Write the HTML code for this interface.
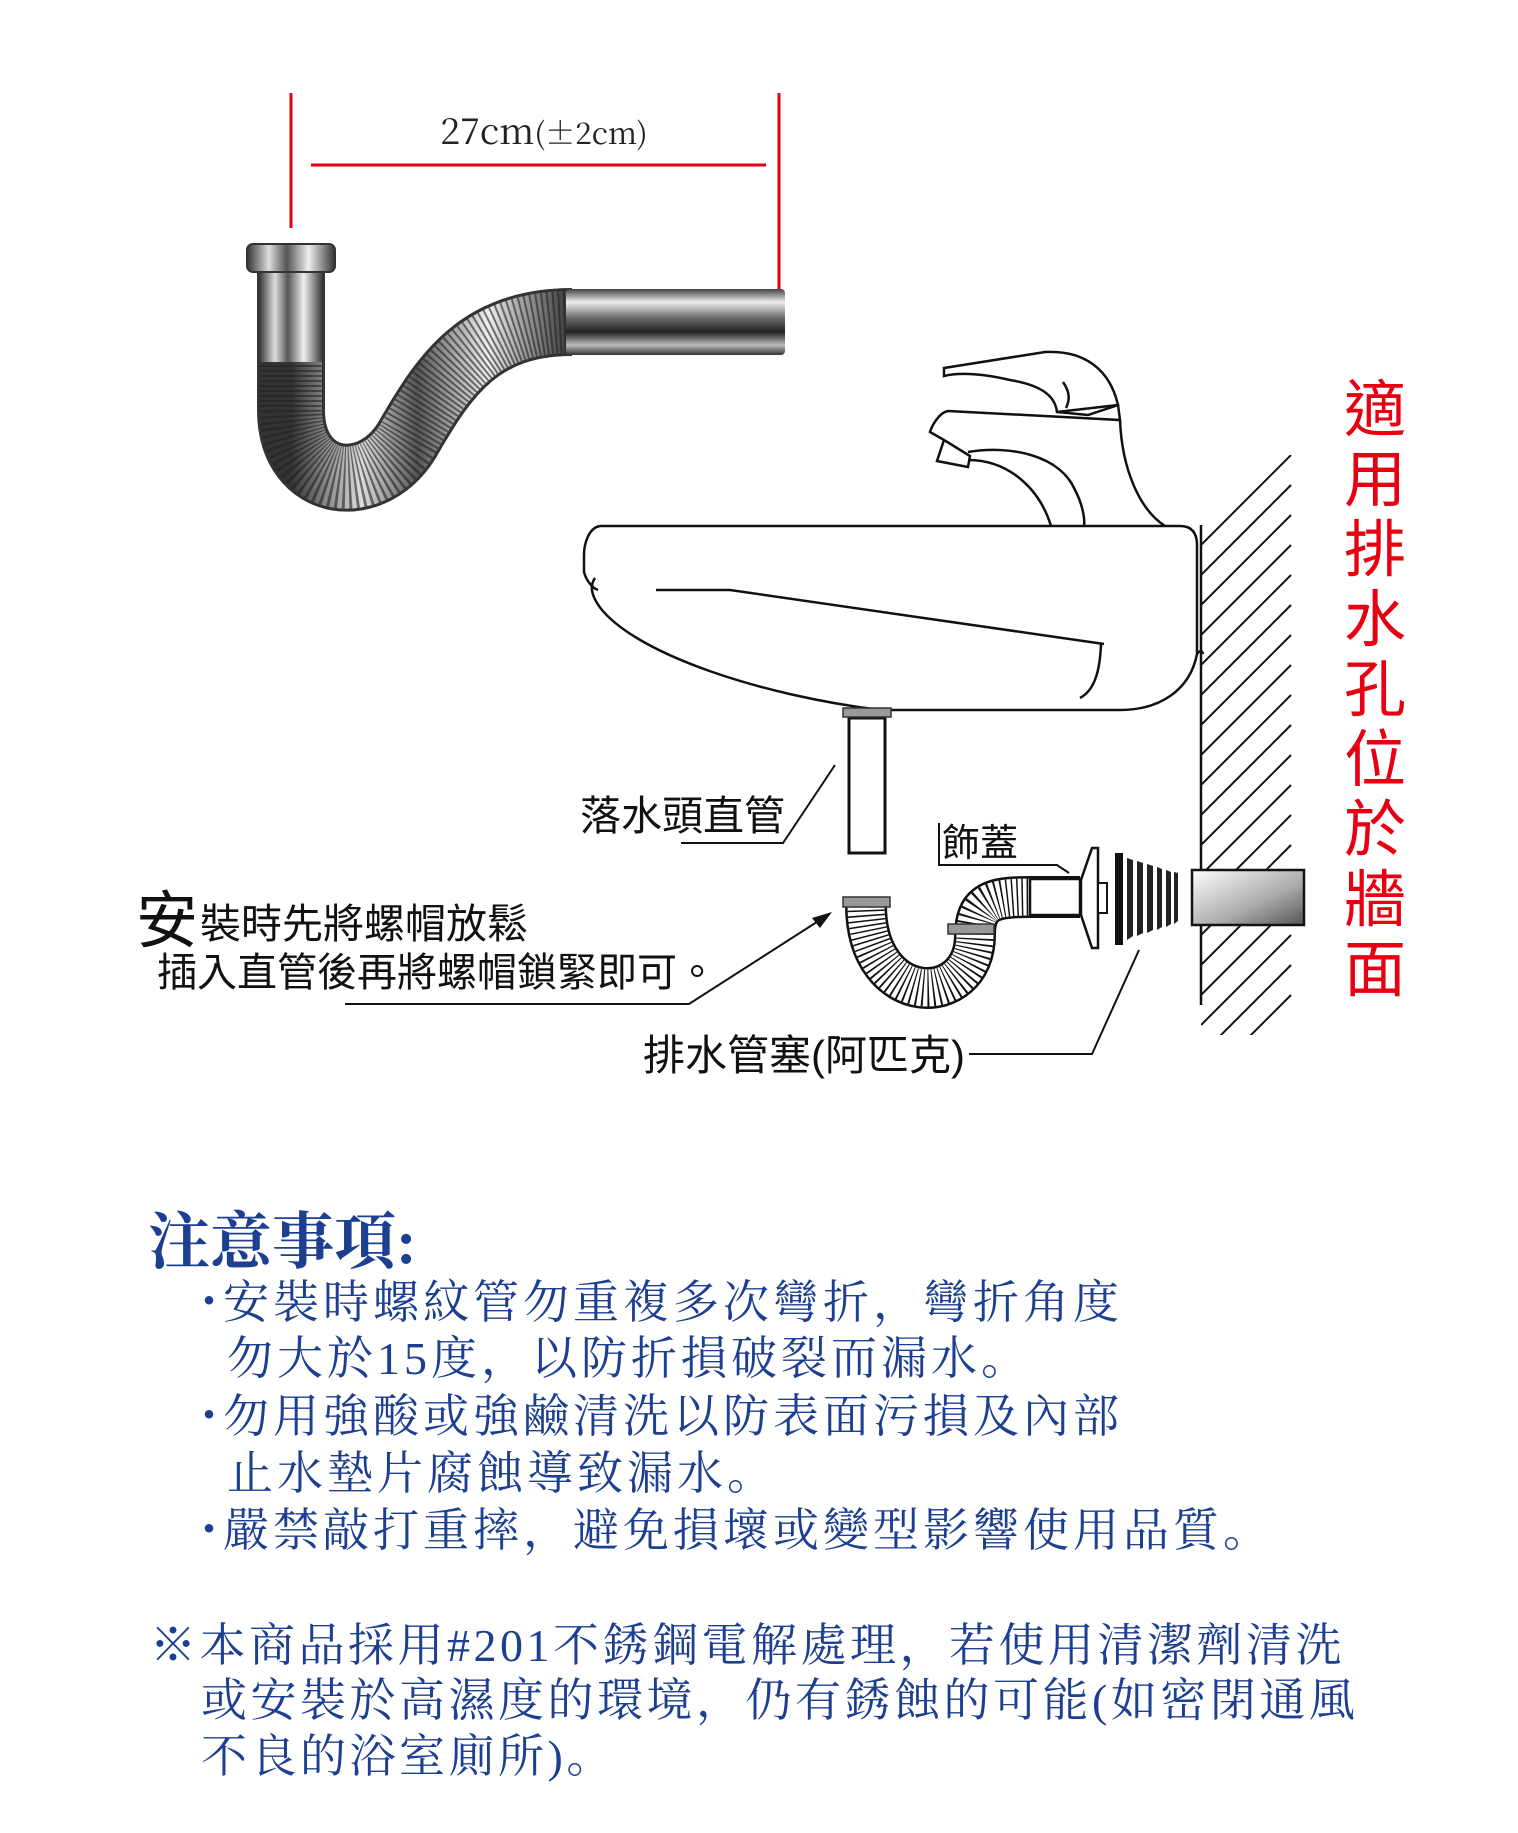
<!DOCTYPE html>
<html><head><meta charset="utf-8"><style>
html,body{margin:0;padding:0;background:#fff}
svg{display:block}
.blk{font-family:"Liberation Sans","Noto Sans CJK TC","Noto Sans CJK SC",sans-serif;fill:#111}
.blu{font-family:"Liberation Serif","Noto Serif CJK SC",serif;fill:#1d3f92}
</style></head><body>
<svg width="1518" height="1833" viewBox="0 0 1518 1833" xmlns="http://www.w3.org/2000/svg">
<defs>
<linearGradient id="metV" x1="0" y1="0" x2="1" y2="0">
<stop offset="0" stop-color="#333"/><stop offset=".25" stop-color="#ddd"/><stop offset=".45" stop-color="#555"/><stop offset=".7" stop-color="#eee"/><stop offset="1" stop-color="#333"/></linearGradient>
<linearGradient id="metH" x1="0" y1="0" x2="0" y2="1">
<stop offset="0" stop-color="#444"/><stop offset=".2" stop-color="#eee"/><stop offset=".45" stop-color="#666"/><stop offset=".65" stop-color="#222"/><stop offset=".85" stop-color="#bbb"/><stop offset="1" stop-color="#333"/></linearGradient>
<linearGradient id="wallpipe" x1="0" y1="0" x2="1" y2="1">
<stop offset="0" stop-color="#fff"/><stop offset=".6" stop-color="#aaa"/><stop offset="1" stop-color="#555"/></linearGradient>
<clipPath id="hc"><rect x="1201" y="455" width="92" height="580"/></clipPath>
</defs>

<!-- red dimension -->
<g stroke="#e60012" stroke-width="3">
<line x1="291" y1="93" x2="291" y2="228"/>
<line x1="311" y1="165" x2="766" y2="165"/>
<line x1="779" y1="93" x2="779" y2="294"/>
</g>
<text x="544" y="144" text-anchor="middle" font-family="'Noto Serif CJK SC',serif" font-size="36" fill="#222">27cm<tspan font-size="30">(±2cm)</tspan></text>

<!-- photo pipe -->
<path d="M291,272 V410 C291,490 375,500 410,435 C445,375 480,322 572,322" fill="none" stroke="#333" stroke-width="68"/>
<path d="M291,272 V410 C291,490 375,500 410,435 C445,375 480,322 572,322" fill="none" stroke="url(#metV)" stroke-width="62"/>
<path d="M291,360 V410 C291,490 375,500 410,435 C445,375 480,322 572,322" fill="none" stroke="#222" stroke-width="62" stroke-dasharray="2 3" opacity=".6"/>
<rect x="259" y="262" width="64" height="100" fill="url(#metV)"/>
<rect x="566" y="289" width="219" height="66" rx="4" fill="url(#metH)"/>
<rect x="247" y="244" width="88" height="28" rx="6" fill="url(#metV)" stroke="#333" stroke-width="2"/>

<!-- faucet -->
<g fill="none" stroke="#111" stroke-width="2.5">
<path d="M944,368 L1045,352 C1085,350 1110,370 1118,405 L1088,415 L1057,412 C1055,395 1040,385 1010,380 C985,374 960,372 944,376 Z"/>
<path d="M1063,382 C1070,392 1070,400 1066,408"/>
<path d="M1057,412 L1118,405 L1120,420 L948,411 C940,412 932,425 930,432 L944,440"/>
<path d="M944,440 L970,456 L968,467 L937,461 L944,440"/>
<path d="M968,452 C1010,445 1060,455 1075,490 C1083,505 1085,520 1084,526"/>
<path d="M968,460 C1010,460 1040,490 1051,526"/>
<path d="M1120,420 C1122,470 1140,510 1165,526"/>
</g>

<!-- sink -->
<g fill="none" stroke="#111" stroke-width="2.5">
<path d="M600,526 H1180 Q1197,526 1197,545 V654 C1190,690 1160,710 1120,710 H880 C760,695 640,655 602,610 C590,595 590,585 595,578"/>
<path d="M600,526 C588,528 584,545 584,555 V572 C586,580 592,588 598,590"/>
<path d="M656,590 H730 L1104,644"/>
<path d="M1101,644 C1100,670 1095,690 1080,698"/>
<path d="M1197,654 C1200,650 1202,650 1203,654"/>
</g>

<!-- wall -->
<line x1="1201" y1="525" x2="1201" y2="1005" stroke="#111" stroke-width="2.5"/>
<g clip-path="url(#hc)" stroke="#111" stroke-width="2">
<line x1="1201" y1="545" x2="1291" y2="455"/><line x1="1201" y1="575" x2="1291" y2="485"/><line x1="1201" y1="605" x2="1291" y2="515"/><line x1="1201" y1="635" x2="1291" y2="545"/><line x1="1201" y1="665" x2="1291" y2="575"/><line x1="1201" y1="695" x2="1291" y2="605"/><line x1="1201" y1="725" x2="1291" y2="635"/><line x1="1201" y1="755" x2="1291" y2="665"/><line x1="1201" y1="785" x2="1291" y2="695"/><line x1="1201" y1="815" x2="1291" y2="725"/><line x1="1201" y1="845" x2="1291" y2="755"/><line x1="1201" y1="875" x2="1291" y2="785"/><line x1="1201" y1="905" x2="1291" y2="815"/><line x1="1201" y1="935" x2="1291" y2="845"/><line x1="1201" y1="965" x2="1291" y2="875"/><line x1="1201" y1="995" x2="1291" y2="905"/><line x1="1201" y1="1025" x2="1291" y2="935"/><line x1="1181" y1="1075" x2="1291" y2="965"/><line x1="1201" y1="1085" x2="1291" y2="995"/>
</g>
<rect x="1192" y="870" width="112" height="55" fill="url(#wallpipe)" stroke="#111" stroke-width="2.5"/>

<!-- drain pipe -->
<rect x="849" y="718" width="36" height="135" fill="#fff" stroke="#111" stroke-width="3"/>
<rect x="843" y="708" width="48" height="9" fill="#999" stroke="#333" stroke-width="1.5"/>

<!-- S trap -->
<path d="M866,905 C866,1010 975,1010 975,935 C975,900 995,897 1030,897 H1080" fill="none" stroke="#111" stroke-width="42"/>
<path d="M866,905 C866,1010 975,1010 975,935 C975,900 995,897 1030,897 H1080" fill="none" stroke="#fff" stroke-width="37"/>
<path d="M866,905 C866,1010 975,1010 975,935 C975,900 995,897 1030,897" fill="none" stroke="#111" stroke-width="37" stroke-dasharray="1.5 3.5"/>
<rect x="843" y="897" width="47" height="10" fill="#999" stroke="#333" stroke-width="1.5"/>
<rect x="948" y="924" width="46" height="10" fill="#999" stroke="#333" stroke-width="1.5"/>
<rect x="1030" y="879" width="50" height="36" fill="#fff" stroke="#111" stroke-width="2.5"/>
<path d="M1092,848 L1098,848 L1098,948 L1092,948 L1081,915 L1081,880 Z" fill="#fff" stroke="#111" stroke-width="2.5"/>
<rect x="1098" y="883" width="9" height="30" fill="#fff" stroke="#111" stroke-width="2"/>
<rect x="1115" y="853" width="8" height="92" fill="#111"/>
<g fill="#222"><path d="M1127,858 L1133,860 L1133,936 L1127,940Z"/><path d="M1137,861 L1143,863 L1143,933 L1137,936Z"/><path d="M1147,864 L1153,866 L1153,930 L1147,933Z"/><path d="M1157,867 L1162,869 L1162,927 L1157,930Z"/><path d="M1166,870 L1171,872 L1171,924 L1166,927Z"/><path d="M1174,872 L1178,873 L1178,921 L1174,924Z"/></g>

<!-- leaders -->
<g fill="none" stroke="#111" stroke-width="2">
<polyline points="681,843 783,843 835,765"/>
<polyline points="939,823 939,865 1057,865 1069,873"/>
<polyline points="345,1004 689,1004 820,920"/>
<polyline points="969,1054 1092,1054 1139,950"/>
</g>
<path d="M832,912 L812,918 L820,928 Z" fill="#111"/>

<!-- labels -->
<text class="blk" x="580" y="830" font-size="41">落水頭直管</text>
<text class="blk" x="942" y="856" font-size="38">飾蓋</text>
<text class="blk" x="136" y="942" font-size="62">安</text>
<text class="blk" x="200" y="938" font-size="41">裝時先將螺帽放鬆</text>
<text class="blk" x="157" y="986" font-size="40">插入直管後再將螺帽鎖緊即可。</text>
<text class="blk" x="643" y="1070" font-size="42">排水管塞(阿匹克)</text>

<!-- red vertical -->
<g font-family="'Liberation Sans','Noto Sans CJK TC',sans-serif" font-size="62" fill="#e60012" text-anchor="middle">
<text x="1375" y="431">適</text><text x="1375" y="501">用</text><text x="1375" y="571">排</text><text x="1375" y="641">水</text><text x="1375" y="711">孔</text><text x="1375" y="781">位</text><text x="1375" y="851">於</text><text x="1375" y="921">牆</text><text x="1375" y="991">面</text>
</g>

<!-- notes -->
<text class="blu" x="148" y="1263" font-size="62" font-weight="bold">注意事項:</text>
<g class="blu" font-size="46">
<text x="186" y="1318">・</text><text x="223" y="1318" letter-spacing="4">安裝時螺紋管勿重複多次彎折，彎折角度</text>
<text x="227" y="1374" letter-spacing="4">勿大於15度，以防折損破裂而漏水。</text>
<text x="186" y="1432">・</text><text x="223" y="1432" letter-spacing="4">勿用強酸或強鹼清洗以防表面污損及內部</text>
<text x="227" y="1489" letter-spacing="4">止水墊片腐蝕導致漏水。</text>
<text x="186" y="1546">・</text><text x="223" y="1546" letter-spacing="4">嚴禁敲打重摔，避免損壞或變型影響使用品質。</text>
<text x="150" y="1661" letter-spacing="3.5">※本商品採用#201不銹鋼電解處理，若使用清潔劑清洗</text>
<text x="201" y="1716" letter-spacing="3.5">或安裝於高濕度的環境，仍有銹蝕的可能(如密閉通風</text>
<text x="201" y="1772" letter-spacing="3.5">不良的浴室廁所)。</text>
</g>
</svg>
</body></html>
